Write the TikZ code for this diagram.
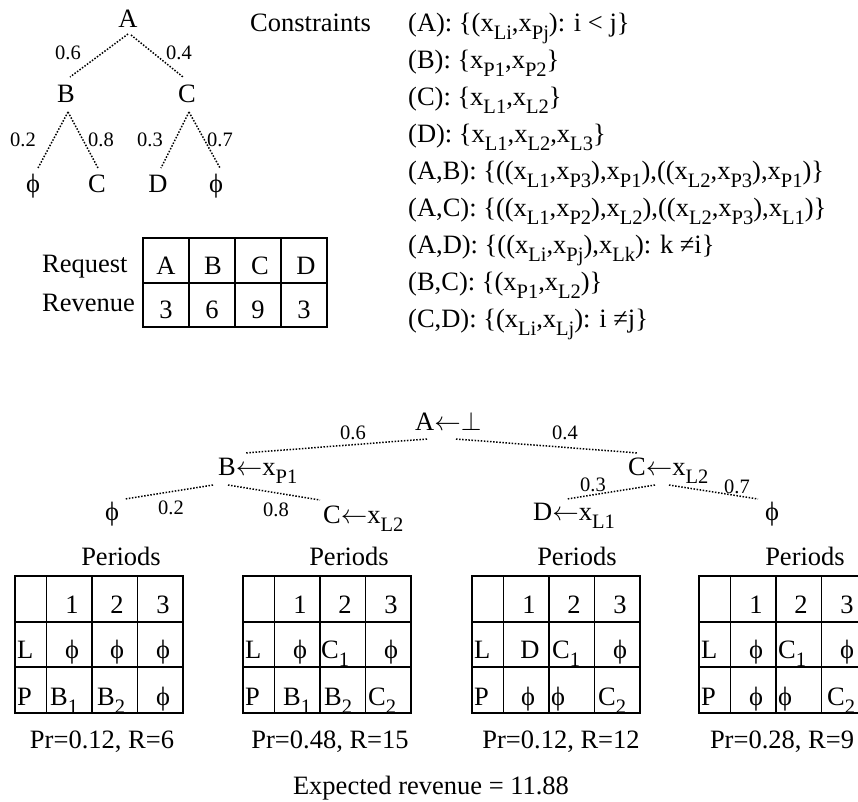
\RequirePackage{fix-cm}
\documentclass[tikz,border=0pt]{standalone}
\usepackage{fontspec}
\setmainfont{Liberation Serif}
\newcommand\mainsz{\fontsize{26.5}{30}\selectfont}
\newcommand\labsz{\fontsize{20.5}{24}\selectfont}
\newcommand\sbx[1]{\raisebox{-8pt}{\fontsize{20.5}{20.5}\selectfont #1}}
\newcommand\ph{ϕ}
\newcommand\larr{$\leftarrow$}
\newcommand\botm{$\perp$}
\tikzset{
  txt/.style={inner sep=0pt, anchor=base},
  txtw/.style={inner sep=0pt, anchor=base west},
  lab/.style={inner sep=0pt, anchor=center, font=\labsz},
  dl/.style={line width=1.5pt, dash pattern=on 1.5pt off 1.6pt},
  gridl/.style={line width=1.6pt},
}
\newcommand\ptgrid{%
  \draw[gridl] (0,576) rectangle (168,713);
  \draw[gridl] (31.5,576) -- (31.5,713);
  \draw[gridl] (77,576) -- (77,713);
  \draw[gridl] (122.5,576) -- (122.5,713);
  \draw[gridl] (0,622) -- (168,622);
  \draw[gridl] (0,667) -- (168,667);
}
\begin{document}
\begin{tikzpicture}[x=1pt, y=-1pt, font=\mainsz]
\useasboundingbox (0,0) rectangle (858,801);

% ---------- top tree ----------
\node[txt] (A) at (128,27) {A};
\node[txt] (B) at (66,102) {B};
\node[txt] (C) at (187,102) {C};
\node[txt] (l1) at (33,192) {\ph};
\node[txt] (l2) at (97,192) {C};
\node[txt] (l3) at (158,192) {D};
\node[txt] (l4) at (216,192) {\ph};
\draw[dl] ([shift={(0,7)}]A.base) -- ([shift={(4,-25)}]B.base);
\draw[dl] ([shift={(3,8)}]A.base) -- ([shift={(-4,-25)}]C.base);
\draw[dl] ([shift={(2,10)}]B.base) -- ([shift={(5,-24)}]l1.base);
\draw[dl] ([shift={(2,10)}]B.base) -- ([shift={(1,-24)}]l2.base);
\draw[dl] ([shift={(2,10)}]C.base) -- ([shift={(3,-24)}]l3.base);
\draw[dl] ([shift={(2,10)}]C.base) -- ([shift={(4,-24)}]l4.base);
\node[lab] (p06) at (68,53) {0.6};
\node[lab] (p04) at (179,53) {0.4};
\node[lab] (p02) at (23,140) {0.2};
\node[lab] (p08) at (101,140) {0.8};
\node[lab] (p03) at (150,140) {0.3};
\node[lab] (p07) at (220,140) {0.7};

% ---------- constraints ----------
\node[txtw] (cons) at (250,31) {Constraints};
\node[txtw] (k1) at (408,31) {(A): \{(x\sbx{Li},x\sbx{Pj}): i < j\}};
\node[txtw] (k2) at (408,68) {(B): \{x\sbx{P1},x\sbx{P2}\}};
\node[txtw] (k3) at (408,105) {(C): \{x\sbx{L1},x\sbx{L2}\}};
\node[txtw] (k4) at (408,142) {(D): \{x\sbx{L1},x\sbx{L2},x\sbx{L3}\}};
\node[txtw] (k5) at (408,179) {(A,B): \{((x\sbx{L1},x\sbx{P3}),x\sbx{P1}),((x\sbx{L2},x\sbx{P3}),x\sbx{P1})\}};
\node[txtw] (k6) at (408,216) {(A,C): \{((x\sbx{L1},x\sbx{P2}),x\sbx{L2}),((x\sbx{L2},x\sbx{P3}),x\sbx{L1})\}};
\node[txtw] (k7) at (408,253) {(A,D): \{((x\sbx{Li},x\sbx{Pj}),x\sbx{Lk}): k ≠i\}};
\node[txtw] (k8) at (408,290) {(B,C): \{(x\sbx{P1},x\sbx{L2})\}};
\node[txtw] (k9) at (408,327) {(C,D): \{(x\sbx{Li},x\sbx{Lj}): i ≠j\}};

% ---------- request table ----------
\draw[gridl] (143,238) rectangle (327,327);
\draw[gridl] (189,238) -- (189,327);
\draw[gridl] (235,238) -- (235,327);
\draw[gridl] (281,238) -- (281,327);
\draw[gridl] (143,283) -- (327,283);
\node[txtw] (req) at (42,272) {Request};
\node[txtw] (rev) at (42,311) {Revenue};
\node[txt] (rA) at (166,274) {A};
\node[txt] (rB) at (213,274) {B};
\node[txt] (rC) at (260,274) {C};
\node[txt] (rD) at (306,274) {D};
\node[txt] (v1) at (166,318) {3};
\node[txt] (v2) at (212,318) {6};
\node[txt] (v3) at (258,318) {9};
\node[txt] (v4) at (304,318) {3};

% ---------- bottom tree ----------
\node[txtw] (tA) at (415,430) {A\larr\botm};
\node[txtw] (tB) at (218,475) {B\larr x\sbx{P1}};
\node[txtw] (tC) at (628,475) {C\larr x\sbx{L2}};
\node[txt] (tL1) at (112,520) {\ph};
\node[txtw] (tC2) at (323,523) {C\larr x\sbx{L2}};
\node[txtw] (tD) at (533,520) {D\larr x\sbx{L1}};
\node[txt] (tL2) at (772,520) {\ph};
\draw[dl] ([shift={(12,9)}]tA.base west) -- ([shift={(27,-22)}]tB.base west);
\draw[dl] ([shift={(41,9)}]tA.base west) -- ([shift={(10,-22)}]tC.base west);
\draw[dl] ([shift={(-5,10)}]tB.base west) -- ([shift={(13,-21)}]tL1.base);
\draw[dl] ([shift={(10,10)}]tB.base west) -- ([shift={(-3,-23)}]tC2.base west);
\draw[dl] ([shift={(27,10)}]tC.base west) -- ([shift={(34,-21)}]tD.base west);
\draw[dl] ([shift={(41,10)}]tC.base west) -- ([shift={(-14,-21)}]tL2.base);
\node[lab] (q06) at (353,433) {0.6};
\node[lab] (q04) at (565,433) {0.4};
\node[lab] (q02) at (171,508) {0.2};
\node[lab] (q08) at (276,510) {0.8};
\node[lab] (q03) at (593,485) {0.3};
\node[lab] (q07) at (737,487) {0.7};

% ---------- period tables ----------
\begin{scope}[shift={(15,0)}]
\ptgrid
\node[txt] (t1per) at (106,565) {Periods};
\node[txt] (t1h1) at (57,613) {1};
\node[txt] (t1h2) at (102,613) {2};
\node[txt] (t1h3) at (148,613) {3};
\node[txtw] (t1L) at (2,658) {L};
\node[txt] (t1a) at (57,658) {\ph};
\node[txt] (t1b) at (102,658) {\ph};
\node[txt] (t1c) at (148,658) {\ph};
\node[txtw] (t1P) at (2,705) {P};
\node[txtw] (t1d) at (35,705) {B\sbx{1}};
\node[txtw] (t1e) at (82,705) {B\sbx{2}};
\node[txt] (t1f) at (148,705) {\ph};
\node[txt] (t1pr) at (87,748) {Pr=0.12, R=6};
\end{scope}

\begin{scope}[shift={(243,0)}]
\ptgrid
\node[txt] (t2per) at (106,565) {Periods};
\node[txt] (t2h1) at (57,613) {1};
\node[txt] (t2h2) at (102,613) {2};
\node[txt] (t2h3) at (148,613) {3};
\node[txtw] (t2L) at (2,658) {L};
\node[txt] (t2a) at (57,658) {\ph};
\node[txtw] (t2b) at (78,658) {C\sbx{1}};
\node[txt] (t2c) at (148,658) {\ph};
\node[txtw] (t2P) at (2,705) {P};
\node[txtw] (t2d) at (40,705) {B\sbx{1}};
\node[txtw] (t2e) at (81,705) {B\sbx{2}};
\node[txtw] (t2f) at (125,705) {C\sbx{2}};
\node[txt] (t2pr) at (87,748) {Pr=0.48, R=15};
\end{scope}

\begin{scope}[shift={(472,0)}]
\ptgrid
\node[txt] (t3per) at (105,565) {Periods};
\node[txt] (t3h1) at (57,613) {1};
\node[txt] (t3h2) at (102,613) {2};
\node[txt] (t3h3) at (148,613) {3};
\node[txtw] (t3L) at (2,658) {L};
\node[txt] (t3a) at (58,658) {D};
\node[txtw] (t3b) at (80,658) {C\sbx{1}};
\node[txt] (t3c) at (148,658) {\ph};
\node[txtw] (t3P) at (2,705) {P};
\node[txt] (t3d) at (56,705) {\ph};
\node[txtw] (t3e) at (79,705) {\ph};
\node[txtw] (t3f) at (126,705) {C\sbx{2}};
\node[txt] (t3pr) at (89,748) {Pr=0.12, R=12};
\end{scope}

\begin{scope}[shift={(699,0)}]
\ptgrid
\node[txt] (t4per) at (106,565) {Periods};
\node[txt] (t4h1) at (57,613) {1};
\node[txt] (t4h2) at (102,613) {2};
\node[txt] (t4h3) at (148,613) {3};
\node[txtw] (t4L) at (2,658) {L};
\node[txt] (t4a) at (57,658) {\ph};
\node[txtw] (t4b) at (79,658) {C\sbx{1}};
\node[txt] (t4c) at (148,658) {\ph};
\node[txtw] (t4P) at (2,705) {P};
\node[txt] (t4d) at (57,705) {\ph};
\node[txtw] (t4e) at (79,705) {\ph};
\node[txtw] (t4f) at (128,705) {C\sbx{2}};
\node[txt] (t4pr) at (83,748) {Pr=0.28, R=9};
\end{scope}

\node[txt] (exp) at (431,794) {Expected revenue = 11.88};
\end{tikzpicture}
\end{document}
